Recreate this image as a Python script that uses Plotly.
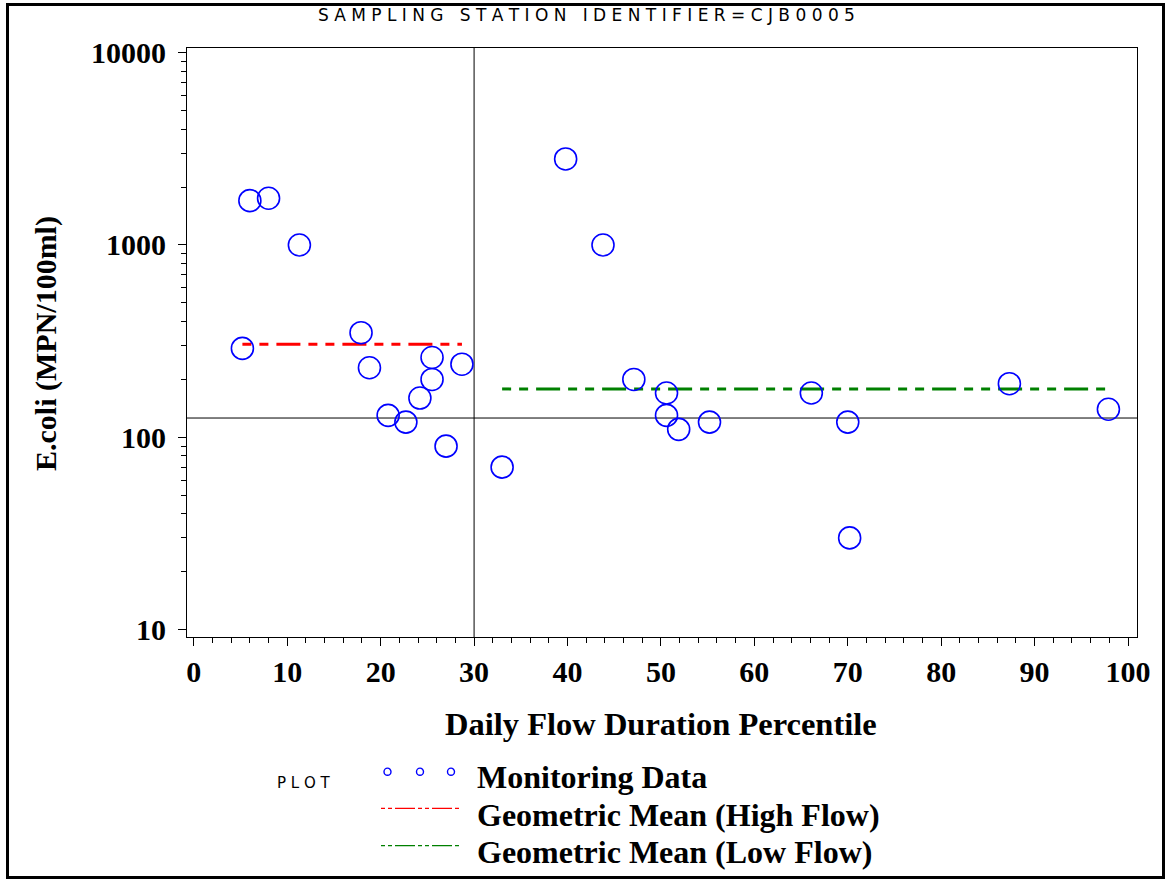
import numpy as np
import plotly.graph_objects as go

# ---------------- data ----------------
flow_percentile = [5.2, 6.0, 8.0, 11.3, 17.9, 18.8, 20.8, 22.7, 24.2, 25.5, 25.5, 27.0, 28.7,
                   33.0, 39.8, 43.8, 47.1, 50.6, 50.6, 51.9, 55.2, 66.1, 70.0, 70.2, 87.3, 97.9]
ecoli = [290, 1700, 1750, 1000, 350, 230, 130, 120, 160, 260, 200, 90, 240,
         70, 2800, 1000, 200, 170, 130, 110, 120, 170, 120, 30, 190, 140]
flow_split = 30          # high / low flow boundary (percentile)
standard = 126           # reference E.coli level
x_ticks = [0, 10, 20, 30, 40, 50, 60, 70, 80, 90, 100]
y_ticks = [10, 100, 1000, 10000]
y_tick_text = ["10", "100", "1000", "10000"]

title_text = "SAMPLING STATION IDENTIFIER=CJB0005"
x_title = "Daily Flow Duration Percentile"
y_title = "E.coli (MPN/100ml)"
legend_labels = ["Monitoring Data", "Geometric Mean (High Flow)", "Geometric Mean (Low Flow)"]

# ---------------- derived ----------------
xs = np.array(flow_percentile)
ys = np.array(ecoli, dtype=float)
hi = xs < flow_split
lo = ~hi
gm_hi = 10 ** np.mean(np.log10(ys[hi]))
gm_lo = 10 ** np.mean(np.log10(ys[lo]))

# ---------------- layout geometry ----------------
W, H = 1166, 880
L, R, T, B = 187, 1137, 48, 637
PW, PH = R - L, B - T
XR = [-0.73, 100.96]
YR = [0.962, 4.024]


def px(p):
    return (p - L) / PW


def py(p):
    return (B - p) / PH


SERIF = "Liberation Serif"
SANS = "DejaVu Sans"
DASH = "9px,8px,9px,8px,24px,8px"

fig = go.Figure()

# reference lines
fig.add_trace(go.Scatter(x=XR, y=[standard, standard], mode="lines",
                         line=dict(color="black", width=1), hoverinfo="skip", showlegend=False))
fig.add_trace(go.Scatter(x=[flow_split, flow_split], y=[10 ** YR[0], 10 ** YR[1]], mode="lines",
                         line=dict(color="black", width=1), hoverinfo="skip", showlegend=False))

# geometric mean lines
fig.add_trace(go.Scatter(x=[xs[hi].min(), xs[hi].max()], y=[gm_hi, gm_hi], mode="lines",
                         line=dict(color="#ff0000", width=3, dash=DASH), showlegend=False))
fig.add_trace(go.Scatter(x=[xs[lo].min(), xs[lo].max()], y=[gm_lo, gm_lo], mode="lines",
                         line=dict(color="#008000", width=3, dash=DASH), showlegend=False))

# monitoring data
fig.add_trace(go.Scatter(x=flow_percentile, y=ecoli, mode="markers",
                         marker=dict(symbol="circle-open", size=22, color="#0000ff",
                                     line=dict(color="#0000ff", width=1.6)),
                         showlegend=False))

minor_y = [m * 10 ** d for d in range(1, 4) for m in range(2, 10)]

fig.update_layout(
    width=W, height=H,
    margin=dict(l=L, r=W - R, t=T, b=H - B, pad=0),
    paper_bgcolor="white", plot_bgcolor="white",
    showlegend=False,
    xaxis=dict(range=XR, tickvals=x_ticks, ticks="outside", ticklen=8, tickwidth=1,
               tickcolor="black", showline=True, linecolor="black", linewidth=1, mirror=True,
               showgrid=False, zeroline=False,
               tickfont=dict(family=SERIF, size=30, color="black", weight="bold"),
               minor=dict(dtick=2, ticks="outside", ticklen=5, tickcolor="black", tickwidth=1,
                          showgrid=False)),
    yaxis=dict(type="log", range=YR, tickvals=y_ticks, ticktext=y_tick_text, ticks="outside",
               ticklen=8, tickwidth=1, tickcolor="black", showline=True, linecolor="black",
               linewidth=1, mirror=True, showgrid=False, zeroline=False, ticklabelstandoff=6,
               tickfont=dict(family=SERIF, size=30, color="black", weight="bold"),
               minor=dict(tickvals=minor_y, ticks="outside", ticklen=5, tickcolor="black",
                          tickwidth=1, showgrid=False)),
)

shapes = []
# page border
shapes.append(dict(type="rect", xref="paper", yref="paper", x0=px(7.5), x1=px(1163.5),
                   y0=py(877.5), y1=py(4.5), line=dict(color="black", width=3)))

annotations = []
spaced_title = "\u00a0\u00a0\u00a0".join(" ".join(w) for w in title_text.split(" "))
annotations.append(dict(text=spaced_title, xref="paper", yref="paper", x=px(586), y=py(15),
                        xanchor="center", yanchor="middle", showarrow=False,
                        font=dict(family=SANS, size=17, color="black")))
annotations.append(dict(text=y_title, xref="paper", yref="paper", x=px(46), y=py(344),
                        xanchor="center", yanchor="middle", textangle=-90, showarrow=False,
                        font=dict(family=SERIF, size=30, color="black", weight="bold")))
annotations.append(dict(text=x_title, xref="paper", yref="paper", x=px(660.5), y=py(724),
                        xanchor="center", yanchor="middle", showarrow=False,
                        font=dict(family=SERIF, size=32.5, color="black", weight="bold")))

# legend
annotations.append(dict(text=" ".join("PLOT"), xref="paper", yref="paper", x=px(303.5), y=py(782.5),
                        xanchor="center", yanchor="middle", showarrow=False,
                        font=dict(family=SANS, size=15, color="black")))
for cx in (387.5, 420, 451):
    shapes.append(dict(type="circle", xref="paper", yref="paper", x0=px(cx - 3.5), x1=px(cx + 3.5),
                       y0=py(771.7 + 3.6), y1=py(771.7 - 3.6), line=dict(color="#0000ff", width=1.4)))
for yy, col in ((808.3, "#ff0000"), (845.7, "#008000")):
    shapes.append(dict(type="line", xref="paper", yref="paper", x0=px(381), x1=px(459),
                       y0=py(yy), y1=py(yy), line=dict(color=col, width=1.2, dash="4px,3px,4px,3px,20px,3px")))
for lab, yy in zip(legend_labels, (777, 815, 852)):
    annotations.append(dict(text=lab, xref="paper", yref="paper", x=px(475), y=py(yy),
                            xanchor="left", yanchor="middle", showarrow=False,
                            font=dict(family=SERIF, size=32, color="black", weight="bold")))

fig.update_layout(shapes=shapes, annotations=annotations)

fig.write_html("out.html", config={"displayModeBar": False},
               post_script="document.body.style.margin='0';document.body.style.overflow='hidden';")
